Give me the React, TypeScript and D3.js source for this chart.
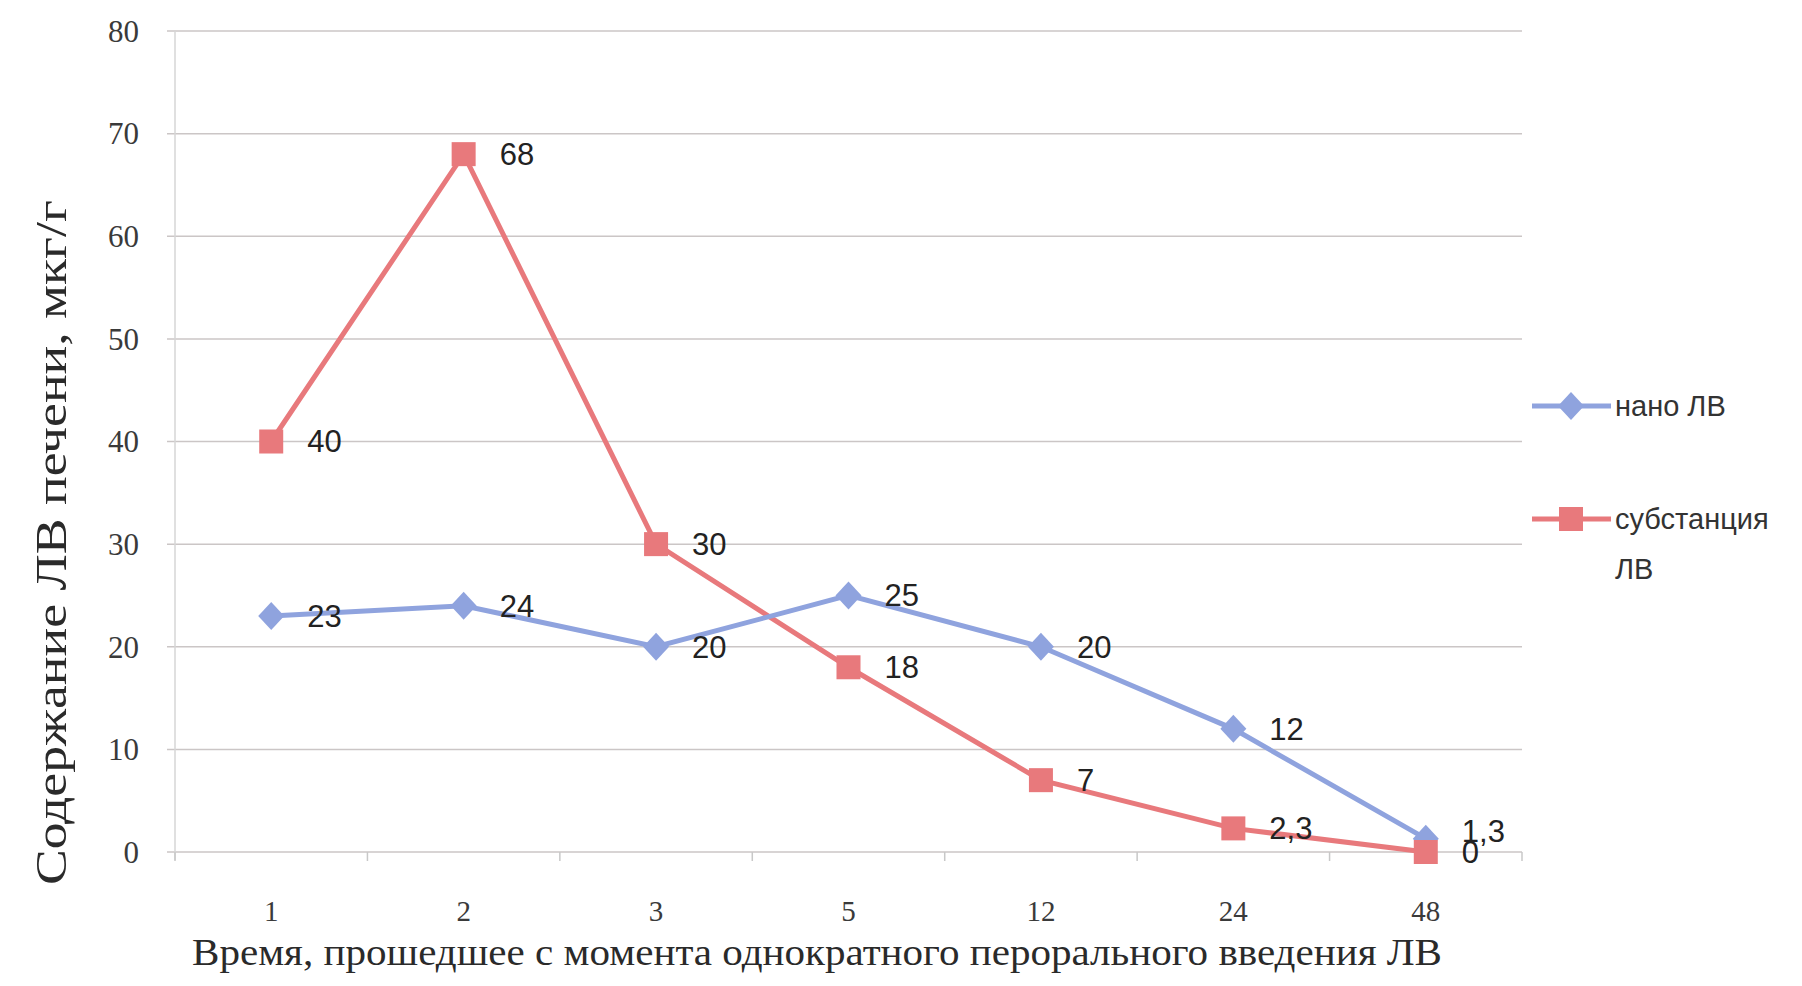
import React from "react";
import * as d3 from "d3";

const categories = ["1", "2", "3", "5", "12", "24", "48"];
const nanoValues = [23, 24, 20, 25, 20, 12, 1.3];
const substValues = [40, 68, 30, 18, 7, 2.3, 0];
const nanoLabels = ["23", "24", "20", "25", "20", "12", "1,3"];
const substLabels = ["40", "68", "30", "18", "7", "2,3", "0"];
const yTicks = [0, 10, 20, 30, 40, 50, 60, 70, 80];
const seriesNames = ["нано ЛВ", "субстанция ЛВ"];

const W = 1802;
const H = 986;
const left = 175;
const right = 1522;
const top = 31;
const bottom = 852;

const BLUE = "#8fa3de";
const RED = "#e8797c";

export default function App() {
  const x = d3.scaleBand<string>().domain(categories).range([left, right]);
  const cx = (c: string) => (x(c) as number) + x.bandwidth() / 2;
  const y = d3.scaleLinear().domain([0, 80]).range([bottom, top]);

  const line = d3
    .line<[string, number]>()
    .x((d) => cx(d[0]))
    .y((d) => y(d[1]));

  const nanoPts: [string, number][] = categories.map((c, i) => [c, nanoValues[i]]);
  const substPts: [string, number][] = categories.map((c, i) => [c, substValues[i]]);

  const dw = 13;
  const dh = 14;
  const diamond = `M0,${-dh}L${dw},0L0,${dh}L${-dw},0Z`;
  const sq = 24;

  const serif = "'Liberation Serif', 'DejaVu Serif', serif";
  const sans = "'Liberation Sans', 'Open Sans', sans-serif";

  const boundaries = [...categories.map((c) => x(c) as number), right];

  return (
    <svg width={W} height={H} style={{ position: "absolute", left: 0, top: 0, background: "#fff" }}>
      <rect x={0} y={0} width={W} height={H} fill="#fff" />
      {/* gridlines */}
      {yTicks.map((t) => (
        <line key={"g" + t} x1={left - 8} x2={right} y1={y(t)} y2={y(t)} stroke="#cbc6c6" strokeWidth={1.5} />
      ))}
      {/* vertical axis */}
      <line x1={left} x2={left} y1={top} y2={bottom + 8} stroke="#d6d6d6" strokeWidth={1.5} />
      {/* x tick marks */}
      {boundaries.map((b, i) => (
        <line key={"t" + i} x1={b} x2={b} y1={bottom} y2={bottom + 9} stroke="#c8c8c8" strokeWidth={1.5} />
      ))}
      {/* y tick labels */}
      {yTicks.map((t) => (
        <text key={"yl" + t} x={139} y={y(t)} dy="0.35em" textAnchor="end" fontFamily={serif} fontSize={31} fill="#3a3a3a">
          {t}
        </text>
      ))}
      {/* x tick labels */}
      {categories.map((c) => (
        <text key={"xl" + c} x={cx(c)} y={911} dy="0.35em" textAnchor="middle" fontFamily={serif} fontSize={29} fill="#3a3a3a">
          {c}
        </text>
      ))}
      {/* axis titles */}
      <text
        x={192}
        y={965}
        fontFamily={serif}
        fontSize={37}
        fill="#2a2a2a"
        textLength={1250}
        lengthAdjust="spacingAndGlyphs"
      >
        Время, прошедшее  с момента однократного перорального введения ЛВ
      </text>
      <text
        transform={`translate(66, 885) rotate(-90)`}
        x={0}
        y={0}
        fontFamily={serif}
        fontSize={44}
        fill="#2a2a2a"
        textLength={685}
        lengthAdjust="spacingAndGlyphs"
      >
        Содержание  ЛВ  печени, мкг/г
      </text>
      {/* lines */}
      <path d={line(substPts) as string} fill="none" stroke={RED} strokeWidth={5} />
      <path d={line(nanoPts) as string} fill="none" stroke={BLUE} strokeWidth={5} />
      {/* markers */}
      {nanoPts.map((p, i) => (
        <path key={"nm" + i} d={diamond} transform={`translate(${cx(p[0])},${y(p[1])})`} fill={BLUE} />
      ))}
      {substPts.map((p, i) => (
        <rect key={"sm" + i} x={cx(p[0]) - sq / 2} y={y(p[1]) - sq / 2} width={sq} height={sq} fill={RED} />
      ))}
      {/* data labels */}
      {nanoPts.map((p, i) => (
        <text key={"nl" + i} x={cx(p[0]) + 36} y={y(p[1]) - (i === 6 ? 8 : 0)} dy="0.35em" fontFamily={sans} fontSize={31} fill="#222">
          {nanoLabels[i]}
        </text>
      ))}
      {substPts.map((p, i) => (
        <text key={"sl" + i} x={cx(p[0]) + 36} y={y(p[1])} dy="0.35em" fontFamily={sans} fontSize={31} fill="#222">
          {substLabels[i]}
        </text>
      ))}
      {/* legend */}
      <g>
        <line x1={1532} x2={1611} y1={406} y2={406} stroke={BLUE} strokeWidth={5} />
        <path d={diamond} transform="translate(1571,406)" fill={BLUE} />
        <text x={1615} y={406} dy="0.35em" fontFamily={sans} fontSize={29} fill="#333">
          {seriesNames[0]}
        </text>
        <line x1={1532} x2={1611} y1={519} y2={519} stroke={RED} strokeWidth={5} />
        <rect x={1571 - sq / 2} y={519 - sq / 2} width={sq} height={sq} fill={RED} />
        <text x={1615} y={519} dy="0.35em" fontFamily={sans} fontSize={29} fill="#333">
          субстанция
        </text>
        <text x={1615} y={569} dy="0.35em" fontFamily={sans} fontSize={29} fill="#333">
          ЛВ
        </text>
      </g>
    </svg>
  );
}
